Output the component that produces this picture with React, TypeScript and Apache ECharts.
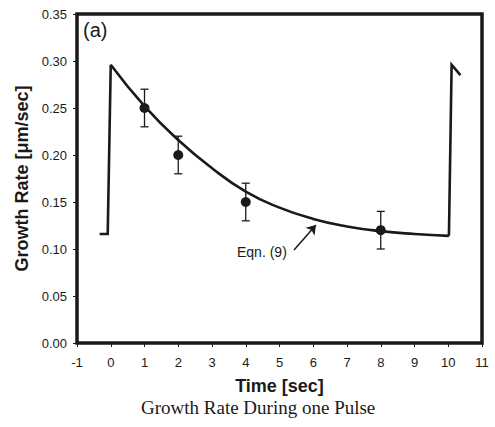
import React, { useEffect, useRef } from "react";
import * as echarts from "echarts";

// Model curve (Eqn. 9): [time, growth rate]
// Decaying part during the pulse
const decayTimes = [0, 1, 2, 3, 4, 5, 6, 7, 8, 9, 10.02];
const decayRates = [0.296, 0.252, 0.216, 0.186, 0.161, 0.144, 0.132, 0.124, 0.119, 0.116, 0.114];
// Steps before and after the pulse
const stepBeforeTimes = [-0.33, -0.09, 0];
const stepBeforeRates = [0.116, 0.116, 0.296];
const stepAfterTimes = [10.02, 10.1, 10.36];
const stepAfterRates = [0.114, 0.296, 0.285];

// Measured points with error bars
const pointTimes = [1, 2, 4, 8];
const pointRates = [0.25, 0.2, 0.15, 0.12];
const pointErrors = [0.02, 0.02, 0.02, 0.02];

// Arrow for the "Eqn. (9)" annotation, in data units
const arrowFrom = [5.43, 0.099];
const arrowTo = [6.08, 0.1255];

const yTickDecimals = 2;

export default function App() {
  const ref = useRef<HTMLDivElement>(null);

  useEffect(() => {
    if (!ref.current) return;
    const chart = echarts.init(ref.current, null, { renderer: "svg" });
    const ink = "#1a1a1a";
    const zip = (a: number[], b: number[]) => a.map((t, i) => [t, b[i]]);
    const pts = zip(pointTimes, pointRates);
    const errs = pointTimes.map((t, i) => [t, pointRates[i] - pointErrors[i], pointRates[i] + pointErrors[i]]);
    const lineStyle = { color: ink, width: 2.6, join: "miter" };

    chart.setOption({
      animation: false,
      backgroundColor: "#ffffff",
      grid: {
        left: 77,
        right: 13,
        top: 14,
        bottom: 84,
        show: true,
        borderWidth: 3.5,
        borderColor: ink,
        backgroundColor: "transparent",
      },
      xAxis: {
        type: "value",
        min: -1,
        max: 11,
        interval: 1,
        name: "Time [sec]",
        nameLocation: "middle",
        nameGap: 34,
        nameTextStyle: { fontFamily: "Liberation Sans, Arial", fontWeight: "bold", fontSize: 18, color: ink },
        axisLine: { show: false, onZero: false },
        axisTick: { show: true, inside: false, length: 4, lineStyle: { color: ink, width: 1 } },
        axisLabel: { fontFamily: "Liberation Sans, Arial", fontSize: 13, color: ink, margin: 13 },
        splitLine: { show: false },
      },
      yAxis: {
        type: "value",
        min: 0,
        max: 0.35,
        interval: 0.05,
        name: "Growth Rate [μm/sec]",
        nameLocation: "middle",
        nameGap: 46,
        nameTextStyle: { fontFamily: "Liberation Sans, Arial", fontWeight: "bold", fontSize: 18, color: ink },
        axisLine: { show: false, onZero: false },
        axisTick: { show: true, inside: false, length: 4, lineStyle: { color: ink, width: 1 } },
        axisLabel: {
          fontFamily: "Liberation Sans, Arial",
          fontSize: 13,
          color: ink,
          margin: 10,
          formatter: (v: number) => v.toFixed(yTickDecimals),
        },
        splitLine: { show: false },
      },
      series: [
        {
          type: "line",
          data: zip(stepBeforeTimes, stepBeforeRates),
          symbol: "none",
          lineStyle,
          z: 3,
        },
        {
          type: "line",
          data: zip(stepAfterTimes, stepAfterRates),
          symbol: "none",
          lineStyle,
          z: 3,
        },
        {
          type: "line",
          data: zip(decayTimes, decayRates),
          symbol: "none",
          smooth: 0.5,
          lineStyle,
          z: 3,
          markLine: {
            silent: true,
            symbol: ["none", "arrow"],
            symbolSize: 9,
            label: { show: false },
            lineStyle: { color: ink, width: 1.5, type: "solid" },
            data: [[{ coord: arrowFrom }, { coord: arrowTo }]],
          },
        },
        {
          type: "custom",
          data: errs,
          z: 4,
          renderItem: (params: any, api: any) => {
            const x = api.value(0);
            const lo = api.coord([x, api.value(1)]);
            const hi = api.coord([x, api.value(2)]);
            const cap = 4;
            const style = { stroke: ink, lineWidth: 1.3 };
            return {
              type: "group",
              children: [
                { type: "line", shape: { x1: lo[0], y1: lo[1], x2: hi[0], y2: hi[1] }, style },
                { type: "line", shape: { x1: lo[0] - cap, y1: lo[1], x2: lo[0] + cap, y2: lo[1] }, style },
                { type: "line", shape: { x1: hi[0] - cap, y1: hi[1], x2: hi[0] + cap, y2: hi[1] }, style },
              ],
            };
          },
        },
        {
          type: "scatter",
          data: pts,
          symbol: "circle",
          symbolSize: 10,
          itemStyle: { color: ink, opacity: 1 },
          z: 5,
        },
      ],
      graphic: [
        {
          type: "text",
          left: 83,
          top: 20,
          style: { text: "(a)", fontFamily: "Liberation Sans, Arial", fontSize: 20, fill: ink },
        },
        {
          type: "text",
          left: 237,
          top: 245,
          style: { text: "Eqn. (9)", fontFamily: "Liberation Sans, Arial", fontSize: 14, fill: ink },
        },
        {
          type: "text",
          left: 141,
          top: 398,
          style: { text: "Growth Rate During one Pulse", fontFamily: "Liberation Serif, Times New Roman, serif", fontSize: 19, fill: ink },
        },
      ],
    });
    return () => chart.dispose();
  }, []);

  return <div ref={ref} style={{ width: 495, height: 427, position: "absolute", left: 0, top: 0 }} />;
}
